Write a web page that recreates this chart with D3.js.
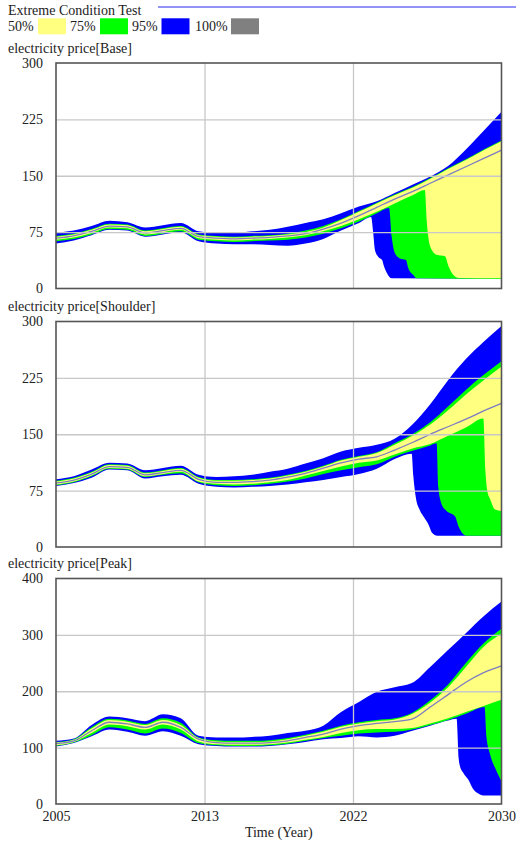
<!DOCTYPE html>
<html><head><meta charset="utf-8">
<script src="https://cdn.jsdelivr.net/npm/d3@7"></script>
<style>html,body{margin:0;padding:0;background:#fff;}svg{display:block;}</style>
</head><body>
<script>
// ---------- DATA ----------
const years = [2005,2006,2007,2008,2009,2010,2011,2012,2013,2014,2015,2016,2017,2018,2019,2020,2021,2022,2023,2024,2025,2026,2027,2028,2029,2030];
const legendLabels = ["50%","75%","95%","100%"];
const panelTitles = ["electricity price[Base]","electricity price[Shoulder]","electricity price[Peak]"];
const yTicksBase = [0,75,150,225,300];
const yTicksShoulder = [0,75,150,225,300];
const yTicksPeak = [0,100,200,300,400];
const xTickValues = [2005, 2005+25/3, 2005+50/3, 2030];
const xTickLabels = ["2005","2013","2022","2030"];

// Base
const baseLine = [67,70,76,83,82,74,77,80,69,67,66,67,68,70,73,79,87,97,108,119,129,140,151,162,173,184];
const baseHi95 = [74,77,83,90,88,81,84,87,76,74,74,76,78,82,87,92,100,109,116,127,138,149,163,185,210,235];
const baseHi75 = [70,73,79,86,85,77,80,83,72,70,69,70,71,73,77,83,92,103,114,125,135,147,160,172,185,197];
const baseHi50 = [69,72,78,85,84,76,79,82,71,69,68,69,70,72,75,81,91,102,113,124,134,146,159,171,184,196];
const baseLo50 = [65,68,74,81,80,72,75,78,67,65,64,65,66,68,71,76,83,92,102,113,124];
const baseLo50Drop = [[2025.7,131],[2025.8,91],[2026.0,56],[2026.36,45],[2026.83,43],[2027.02,30],[2027.3,18],[2027.6,14],[2030,13.5]];
const baseLo75 = [63,66,72,79,78,70,73,76,65,63,62,63,64,65,68,73,80,89,100];
const baseLo75Drop = [[2023.69,107],[2023.84,69],[2024.02,47],[2024.3,40],[2024.64,38],[2024.77,27],[2025.05,18],[2025.24,13.5],[2030,12.5]];
const baseLo95 = [60,64,71,78,77,69,72,75,63,60,59,59,58,57,60,66,77,87];
const baseLo95Drop = [[2022.68,95],[2022.8,74],[2022.9,51],[2023.09,42],[2023.3,38],[2023.4,30],[2023.56,21],[2023.84,13.5],[2030,13]];

// Shoulder
const shLine = [85,89,97,107,106,96,99,102,90,86,86,87,89,93,98,105,112,117,120,129,139,150,160,170,181,191];
const shHi95 = [90,94,103,112,111,102,105,108,96,93,94,96,100,104,111,118,127,132,136,144,163,190,222,250,273,294];
const shHi75 = [88,92,100,110,109,99,102,105,93,89,89,90,92,96,101,108,116,121,126,138,150,166,187,209,229,247];
const shHi50 = [87,91,99,109,108,98,101,104,92,88,88,89,91,95,100,107,115,120,125,136,148,163,182,203,222,240];
const shLo50 = [83,87,95,105,104,94,97,100,87,84,83,84,86,89,95,101,107,112,115,123,131,137,148,159];
const shLo50Drop = [[2028.98,171],[2029.1,100],[2029.2,75],[2029.36,64],[2029.64,50],[2030,48]];
const shLo75 = [82,86,94,104,103,93,96,98,86,82,81,82,84,87,91,97,102,106,110,120,128,135];
const shLo75Drop = [[2026.36,138],[2026.45,80],[2026.64,57],[2026.92,48],[2027.39,41],[2027.58,28],[2027.86,17],[2028.05,15],[2030,15]];
const shLo95 = [81,85,92,103,102,91,94,96,84,80,79,80,81,83,86,89,93,97,104,117];
const shLo95Drop = [[2024.96,124],[2025.05,95],[2025.2,65],[2025.4,50],[2025.7,38],[2025.9,30],[2026.1,19],[2026.4,15],[2030,15]];

// Peak
const pkLine = [107,112,130,145,142,136,145,136,115,109,108,108,109,112,118,124,133,139,143,146,151,172,194,216,233,245];
const pkHi95 = [112,116,140,155,152,147,159,152,121,118,118,119,121,126,130,139,163,181,199,207,215,243,273,303,333,359];
const pkHi75 = [110,115,136,151,148,142,152,144,118,113,112,112,113,117,123,130,139,145,149,152,162,184,212,250,285,311];
const pkHi50 = [109,114,134,149,146,140,149,140,117,111,110,110,111,115,121,128,137,143,147,150,160,180,207,243,279,302];
const pkLo50 = [104,110,126,141,138,132,141,132,111,106,105,105,106,109,114,119,126,131,133,133,135,143,152,163,174,185];
const pkLo75 = [103,109,122,136,132,125,134,126,108,104,103,103,104,107,112,117,121,125,127,128,132,140,149,160];
const pkLo75Drop = [[2029.05,172],[2029.15,120],[2029.35,89],[2029.7,60],[2030,40]];
const pkLo95 = [102,108,120,132,128,121,129,121,106,103,102,102,103,106,110,115,117,120,118,121,130,139,148];
const pkLo95Drop = [[2027.48,151],[2027.6,80],[2027.67,67],[2027.86,55],[2028.14,43],[2028.42,26],[2028.79,17],[2029.0,15],[2030,15]];

// ---------- LAYOUT ----------
const W = 516, H = 844;
const left = 56, right = 501.5;
const tops = [63, 321.5, 578.5];
const plotH = 225.5;
const colors = {c50:"#ffff80", c75:"#00ff00", c95:"#0000ff", c100:"#808080", line:"#7d7dc2", grid:"#c8c8c8", frame:"#555555", text:"#222222"};

function pts(arr, extra){ const p = arr.map((v,i)=>[years[i], v]); return extra ? p.concat(extra) : p; }

const panels = [
  {title:panelTitles[0], ticks:yTicksBase, line:baseLine,
   bands:[[pts(baseHi95), pts(baseLo95, baseLo95Drop), colors.c95],
          [pts(baseHi75), pts(baseLo75, baseLo75Drop), colors.c75],
          [pts(baseHi50), pts(baseLo50, baseLo50Drop), colors.c50]]},
  {title:panelTitles[1], ticks:yTicksShoulder, line:shLine,
   bands:[[pts(shHi95), pts(shLo95, shLo95Drop), colors.c95],
          [pts(shHi75), pts(shLo75, shLo75Drop), colors.c75],
          [pts(shHi50), pts(shLo50, shLo50Drop), colors.c50]]},
  {title:panelTitles[2], ticks:yTicksPeak, line:pkLine,
   bands:[[pts(pkHi95), pts(pkLo95, pkLo95Drop), colors.c95],
          [pts(pkHi75), pts(pkLo75, pkLo75Drop), colors.c75],
          [pts(pkHi50), pts(pkLo50), colors.c50]]}
];

const svg = d3.select("body").append("svg").attr("width", W).attr("height", H)
  .style("font-family", "'Liberation Serif', 'Times New Roman', serif").style("font-size", "14px");
svg.append("rect").attr("width", W).attr("height", H).attr("fill", "#fff");

// Header
svg.append("text").attr("x", 8).attr("y", 14.5).attr("fill", colors.text).text("Extreme Condition Test");
svg.append("line").attr("x1", 158).attr("x2", 516).attr("y1", 7).attr("y2", 7)
  .attr("stroke", "#6e6ef5").attr("stroke-width", 1.5);
const legendX = [8, 70, 132, 195];
const swatchX = [38, 100, 161.5, 231];
const swatchColors = [colors.c50, colors.c75, colors.c95, colors.c100];
legendLabels.forEach((l,i)=>{
  svg.append("text").attr("x", legendX[i]).attr("y", 31).attr("fill", colors.text).text(l);
  svg.append("rect").attr("x", swatchX[i]).attr("y", 18.3).attr("width", 28).attr("height", 16).attr("fill", swatchColors[i]);
});

const x = d3.scaleLinear().domain([2005, 2030]).range([left, right]);

panels.forEach((p, pi)=>{
  const top = tops[pi];
  const yMax = p.ticks[p.ticks.length-1];
  const y = d3.scaleLinear().domain([0, yMax]).range([top + plotH, top]);
  const g = svg.append("g");

  g.append("text").attr("x", 8).attr("y", top - 10.5).attr("fill", colors.text).text(p.title);

  const clipId = "clip" + pi;
  svg.append("clipPath").attr("id", clipId).append("rect")
    .attr("x", left).attr("y", top).attr("width", right-left).attr("height", plotH);

  const lineGen = d3.line().x(d=>x(d[0])).y(d=>y(d[1])).curve(d3.curveMonotoneX);
  const bandG = g.append("g").attr("clip-path", `url(#${clipId})`);
  p.bands.forEach(([up, lo, col])=>{
    const path = lineGen(up) + lineGen(lo.slice().reverse()).replace(/^M/, "L") + "Z";
    bandG.append("path").attr("d", path).attr("fill", col).attr("stroke", "none");
  });

  // grid
  const gridY = g.append("g").attr("transform", `translate(${left},0)`)
    .call(d3.axisLeft(y).tickValues(p.ticks.slice(1, -1)).tickSize(-(right-left)).tickFormat(""));
  gridY.select(".domain").remove();
  gridY.selectAll("line").attr("stroke", colors.grid).attr("stroke-width", 1.3);
  const gridX = g.append("g").attr("transform", `translate(0,${top+plotH})`)
    .call(d3.axisBottom(x).tickValues(xTickValues.slice(1, -1)).tickSize(-plotH).tickFormat(""));
  gridX.select(".domain").remove();
  gridX.selectAll("line").attr("stroke", colors.grid).attr("stroke-width", 1.3);

  // base run line
  bandG.append("path").datum(years.map((yr,i)=>[yr, p.line[i]]))
    .attr("d", lineGen).attr("fill", "none").attr("stroke", colors.line).attr("stroke-width", 1.3);

  // frame
  g.append("rect").attr("x", left).attr("y", top).attr("width", right-left).attr("height", plotH)
    .attr("fill", "none").attr("stroke", colors.frame).attr("stroke-width", 1.6);

  // y labels
  const ax = g.append("g").attr("transform", `translate(${left},0)`)
    .call(d3.axisLeft(y).tickValues(p.ticks).tickSize(0).tickPadding(13).tickFormat(d3.format("d")));
  ax.select(".domain").remove();
  ax.selectAll("text").attr("fill", colors.text).attr("dy", "0.32em")
    .style("font-family", "'Liberation Serif', serif").style("font-size", "14px");

  if (pi === panels.length - 1) {
    const axb = g.append("g").attr("transform", `translate(0,${top+plotH})`)
      .call(d3.axisBottom(x).tickValues(xTickValues).tickSize(0).tickPadding(7)
        .tickFormat((d,i)=>xTickLabels[i]));
    axb.select(".domain").remove();
    axb.selectAll("text").attr("fill", colors.text)
      .style("font-family", "'Liberation Serif', serif").style("font-size", "14px");
    g.append("text").attr("x", (left+right)/2).attr("y", 837).attr("text-anchor", "middle")
      .attr("fill", colors.text).text("Time (Year)");
  }
});
</script>
</body></html>
